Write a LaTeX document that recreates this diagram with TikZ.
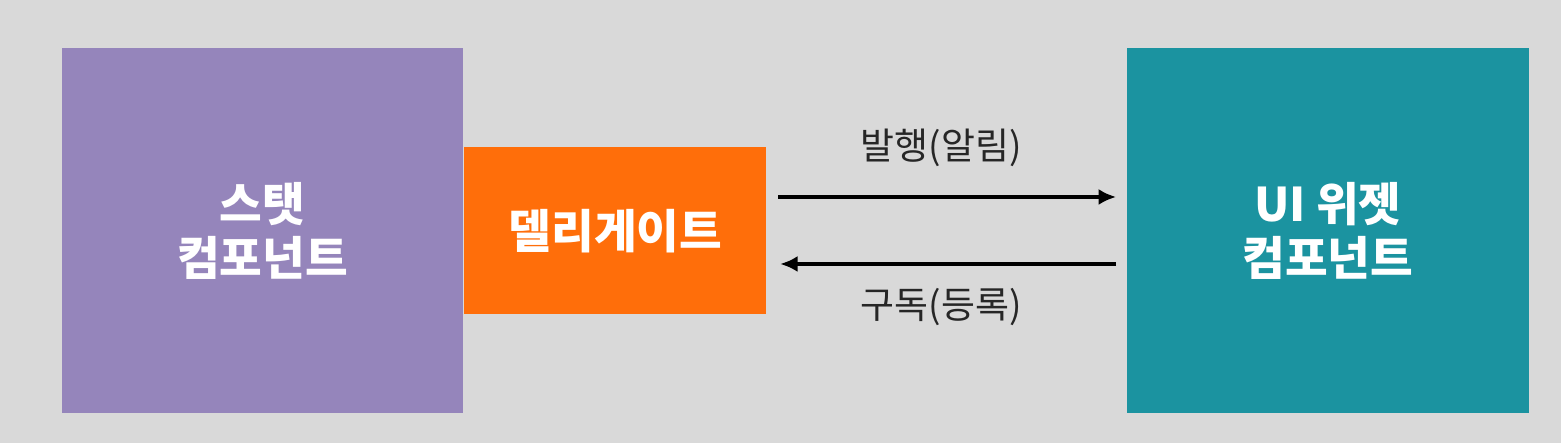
\documentclass[tikz,border=0pt]{standalone}
\usepackage{fontspec}
\setmainfont{Noto Sans CJK KR}
\usepackage{xcolor}
\usetikzlibrary{arrows.meta, positioning}

\definecolor{bgray}{HTML}{D9D9D9}
\definecolor{statpurple}{HTML}{9585BB}
\definecolor{delorange}{HTML}{FF6E0A}
\definecolor{widgetteal}{HTML}{1B93A0}

\begin{document}
\begin{tikzpicture}[
    comp/.style={rectangle, inner sep=0pt, text=white, align=center,
                 font=\fontsize{13.2}{15.2}\selectfont\bfseries},
    lbl/.style={text=black!85, font=\fontsize{10.5}{12}\selectfont},
    arr/.style={-{Latex[length=5pt, width=4.6pt]}, line width=1.1pt}
]
\fill[bgray] (0,0) rectangle (15.61,4.43);
\useasboundingbox (0,0) rectangle (15.61,4.43);

\node[comp, fill=statpurple, minimum width=4.01cm, minimum height=3.65cm] (stat) at (2.625,2.12) {스탯\\컴포넌트};
\node[comp, fill=delorange, minimum width=3.02cm, minimum height=1.67cm, right=0cm of stat] (deleg) {델리게이트};
\node[comp, fill=widgetteal, minimum width=4.02cm, minimum height=3.65cm, right=3.59cm of deleg] (widget) {UI 위젯\\컴포넌트};

\draw[arr] ([xshift=0.11cm,yshift=0.34cm]deleg.east) -- ([xshift=-0.1cm,yshift=0.34cm]widget.west)
    node[lbl, midway, xshift=-0.06cm, yshift=0.49cm] (pub) {발행(알림)};
\draw[arr] ([xshift=-0.1cm,yshift=-0.33cm]widget.west) -- ([xshift=0.13cm,yshift=-0.33cm]deleg.east)
    node[lbl, midway, xshift=-0.07cm, yshift=-0.43cm] (sub) {구독(등록)};
\end{tikzpicture}
\end{document}
